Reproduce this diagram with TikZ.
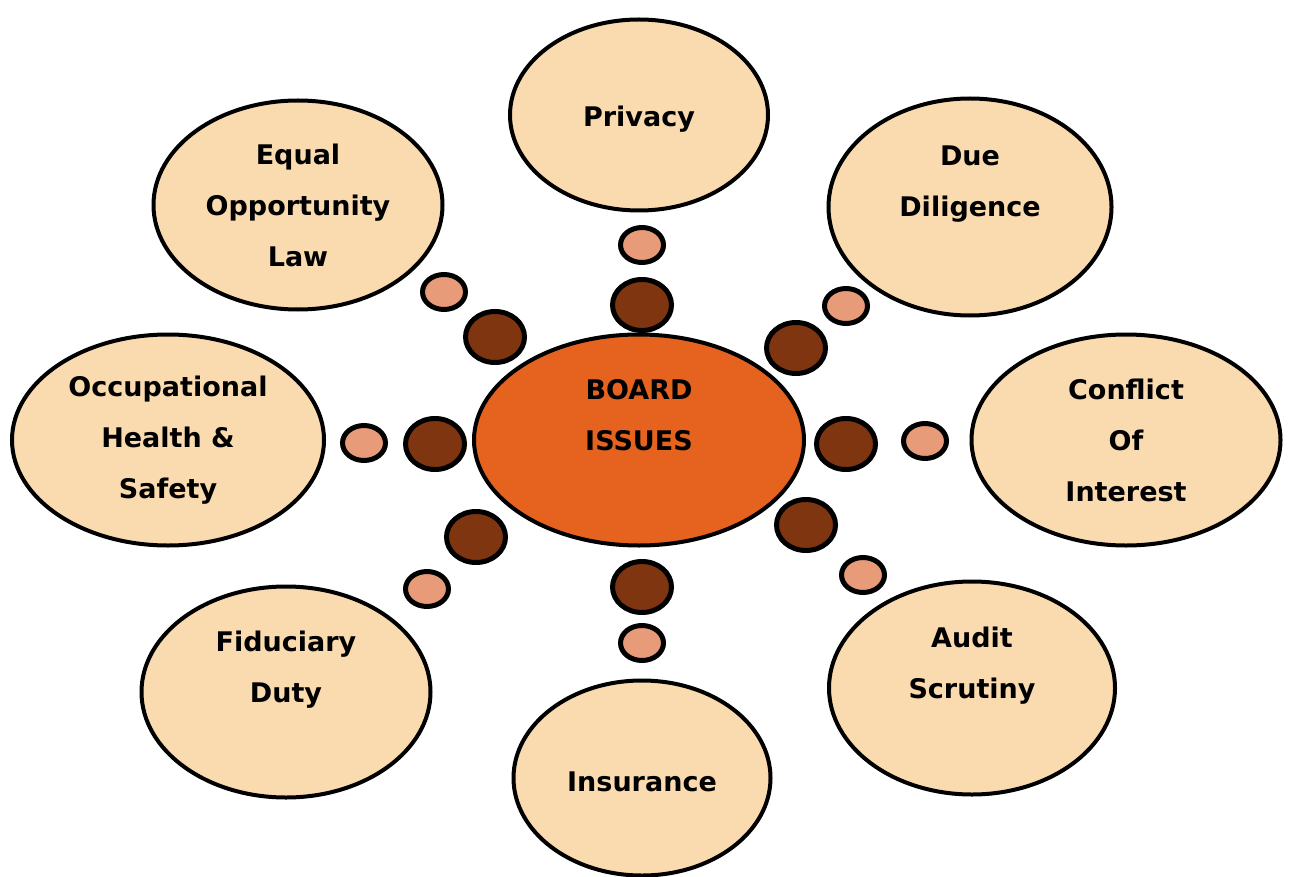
\documentclass[tikz,border=0pt]{standalone}
\usepackage{fontspec}
\setmainfont{DejaVu Sans}
\usetikzlibrary{shapes.geometric}
\definecolor{paleorange}{HTML}{FADBB0}
\definecolor{boardorange}{HTML}{E6621F}
\definecolor{darkbead}{HTML}{7F3510}
\definecolor{lightbead}{HTML}{E89B78}

\begin{document}
\begin{tikzpicture}[x=1pt,y=-1pt,
    issue/.style={ellipse,draw,line width=4pt,fill=paleorange,inner sep=0pt,
      align=center,font=\bfseries\fontsize{27}{51}\selectfont},
    bigbead/.style={ellipse,draw,line width=5pt,fill=darkbead,
      minimum width=59pt,minimum height=51pt,inner sep=0pt},
    smallbead/.style={ellipse,draw,line width=5pt,fill=lightbead,
      minimum width=43pt,minimum height=35pt,inner sep=0pt}]
  \useasboundingbox (0,0) rectangle (1289,877);
  % centre
  \node[issue,fill=boardorange,minimum width=330pt,minimum height=211pt] (board) at (639,440) {BOARD\\ISSUES\\\mbox{}};
  % the eight issues round it
  \node[issue,minimum width=258pt,minimum height=191pt,text height=28pt] (privacy) at (639,115) {Privacy};
  \node[issue,minimum width=289pt,minimum height=209pt] (equal) at (298,205) {Equal\\Opportunity\\Law};
  \node[issue,minimum width=283pt,minimum height=217pt] (due) at (970,207) {Due\\Diligence\\\mbox{}};
  \node[issue,minimum width=312pt,minimum height=211pt] (occupational) at (168,440) {Occupational\\Health \&\\Safety};
  \node[issue,minimum width=309pt,minimum height=211pt] (conflict) at (1126,440) {Conflict\\Of\\Interest};
  \node[issue,minimum width=289pt,minimum height=211pt] (fiduciary) at (286,692) {Fiduciary\\Duty\\\mbox{}};
  \node[issue,minimum width=257pt,minimum height=195pt,text height=28pt] (insurance) at (642,778) {Insurance};
  \node[issue,minimum width=286pt,minimum height=213pt] (audit) at (972,688) {Audit\\Scrutiny\\\mbox{}};
  % beads between centre and issues
  \node[bigbead] (privacy-b) at (642,305) {};
  \node[smallbead] (privacy-s) at (642,245) {};
  \node[bigbead] (equal-b) at (495,337) {};
  \node[smallbead] (equal-s) at (444,292) {};
  \node[bigbead] (due-b) at (796,348) {};
  \node[smallbead] (due-s) at (846,306) {};
  \node[bigbead] (occupational-b) at (435,444) {};
  \node[smallbead] (occupational-s) at (364,443) {};
  \node[bigbead] (conflict-b) at (846,444) {};
  \node[smallbead] (conflict-s) at (925,441) {};
  \node[bigbead] (fiduciary-b) at (476,537) {};
  \node[smallbead] (fiduciary-s) at (427,589) {};
  \node[bigbead] (insurance-b) at (642,587) {};
  \node[smallbead] (insurance-s) at (642,643) {};
  \node[bigbead] (audit-b) at (806,525) {};
  \node[smallbead] (audit-s) at (863,575) {};
\end{tikzpicture}
\end{document}
